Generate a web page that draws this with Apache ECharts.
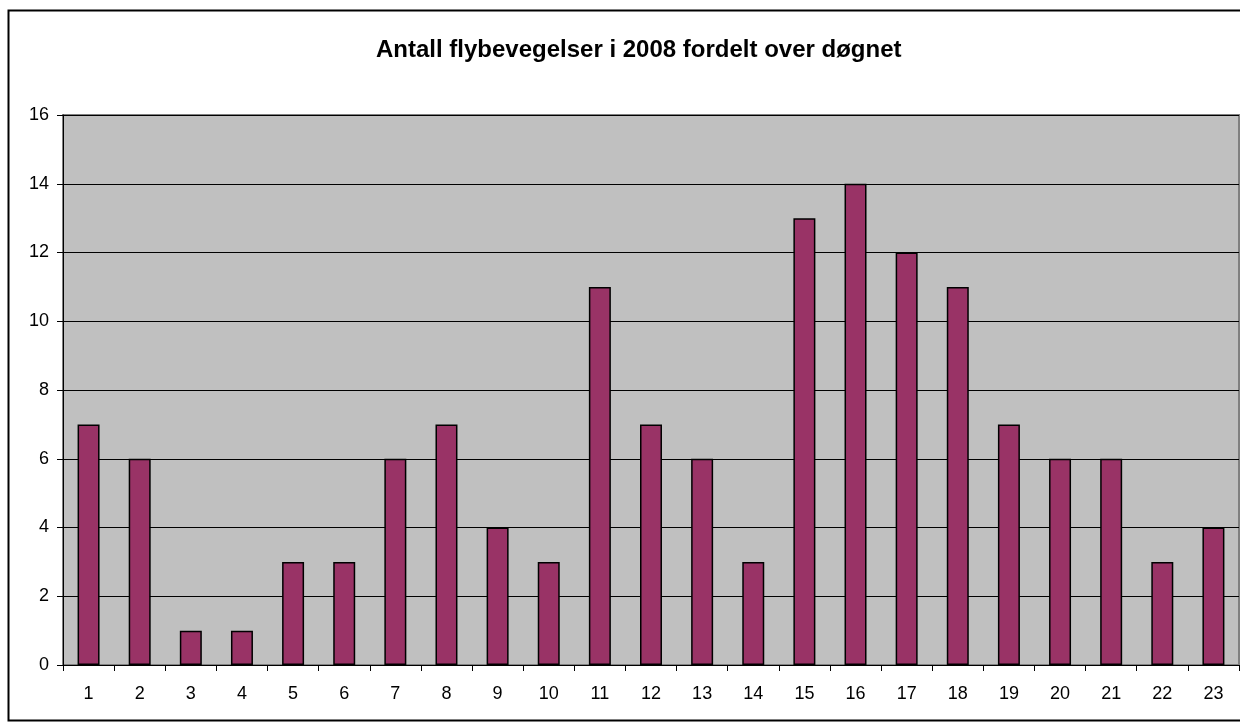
<!DOCTYPE html>
<html><head><meta charset="utf-8">
<script src="https://cdn.jsdelivr.net/npm/echarts@6/dist/echarts.min.js"></script>
<style>html,body{margin:0;padding:0;background:#fff}#c{width:1240px;height:722px}</style>
</head><body><div id="c"></div>
<script>
const titleText = 'Antall flybevegelser i 2008 fordelt over døgnet';
const categories = ['1','2','3','4','5','6','7','8','9','10','11','12','13','14','15','16','17','18','19','20','21','22','23'];
const values = [7,6,1,1,3,3,6,7,4,3,11,7,6,3,13,14,12,11,7,6,6,3,4];
const yTicks = {min:0, max:16, interval:2};

const chart = echarts.init(document.getElementById('c'), null, {renderer:'canvas'});
chart.setOption({
  animation:false,
  backgroundColor:'#fff',
  title:{text:titleText,left:371,top:33,textStyle:{fontFamily:'Liberation Sans, Arial',fontSize:24,fontWeight:'bold',color:'#000'}},
  graphic:[{type:'rect',shape:{x:8.5,y:10.5,width:1240,height:710},style:{fill:'none',stroke:'#000',lineWidth:2},z:100}],
  grid:{left:63,right:1,top:115,bottom:57,show:true,backgroundColor:'#C0C0C0',borderColor:'#808080',borderWidth:2},
  xAxis:{type:'category',data:categories,
    axisLine:{lineStyle:{color:'#000',width:1}},
    axisTick:{show:true,alignWithLabel:false,length:6,lineStyle:{color:'#000'}},
    axisLabel:{fontFamily:'Liberation Sans, Arial',fontSize:18,color:'#000',margin:20},
    splitLine:{show:false}},
  yAxis:{type:'value',min:yTicks.min,max:yTicks.max,interval:yTicks.interval,
    axisLine:{show:true,lineStyle:{color:'#000'}},
    axisTick:{show:true,length:6,lineStyle:{color:'#000'}},
    axisLabel:{fontFamily:'Liberation Sans, Arial',fontSize:18,color:'#000',margin:14},
    splitLine:{show:true,lineStyle:{color:'#000',width:1}}},
  series:[{type:'bar',data:values,barWidth:'43%',
    itemStyle:{color:'#993366',borderColor:'#000',borderWidth:1.5}}]
});
</script></body></html>
